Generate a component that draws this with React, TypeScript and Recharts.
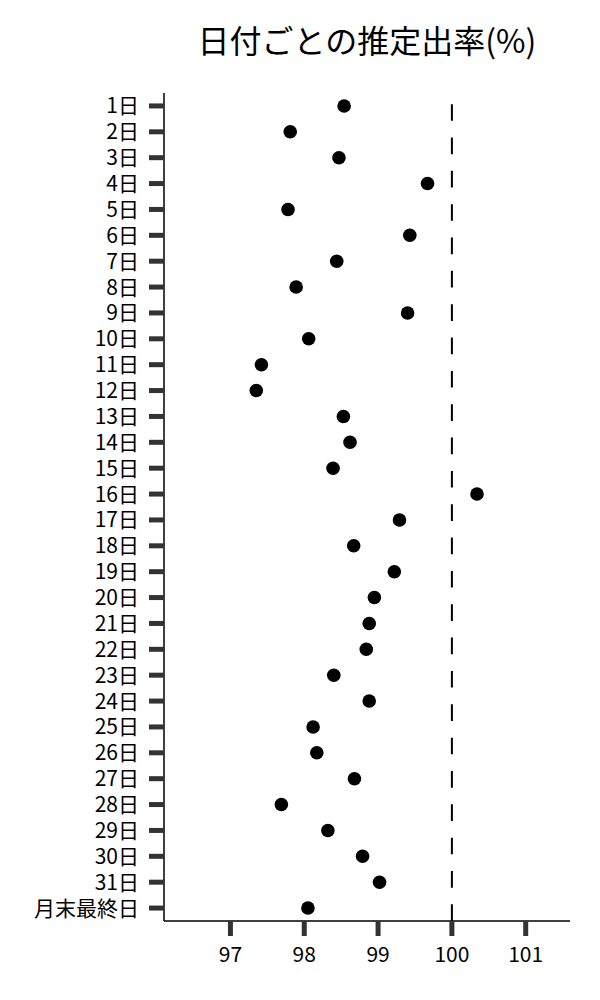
import React from "react";
import { ScatterChart, Scatter, XAxis, YAxis, ReferenceLine } from "recharts";

const days: string[] = [
  "1日", "2日", "3日", "4日", "5日", "6日", "7日", "8日", "9日", "10日",
  "11日", "12日", "13日", "14日", "15日", "16日", "17日", "18日", "19日", "20日",
  "21日", "22日", "23日", "24日", "25日", "26日", "27日", "28日", "29日", "30日",
  "31日", "月末最終日",
];

const rates: number[] = [
  98.54, 97.81, 98.47, 99.67, 97.78, 99.43, 98.44, 97.89, 99.40, 98.06,
  97.42, 97.35, 98.53, 98.62, 98.39, 100.34, 99.29, 98.67, 99.22, 98.95,
  98.88, 98.84, 98.40, 98.88, 98.12, 98.17, 98.68, 97.69, 98.32, 98.79,
  99.02, 98.05,
];

const xTicks: number[] = [97, 98, 99, 100, 101];
const xDomain: number[] = [96.1, 101.6];
const referenceValue = 100;
const title = "日付ごとの推定出率(%)";

const data = days.map((d, i) => ({ day: d, rate: rates[i] }));

const FONT = '"Noto Sans CJK JP", "Noto Sans", sans-serif';

const Dot = (props: any) => {
  const { cx, cy } = props;
  if (cx == null || cy == null) return null;
  return <circle cx={cx} cy={cy} r={6.8} fill="#000" />;
};

// Draw the dashed reference line from the bottom of the plot upward
const RefLineShape = (props: any) => {
  const { x1, y1, x2, y2 } = props;
  if (x1 == null || y1 == null) return null;
  const yb = Math.max(y1, y2);
  const yt = Math.min(y1, y2);
  return (
    <line
      x1={x1}
      y1={yb}
      x2={x2}
      y2={yt}
      stroke="#000"
      strokeWidth={2}
      strokeDasharray="16.67 16.67"
    />
  );
};

export default function App() {
  return (
    <div style={{ position: "relative", width: 584, height: 984, fontFamily: FONT }}>
      <div
        style={{
          position: "absolute",
          left: 159,
          top: 15,
          width: 400,
          height: 32,
          lineHeight: "32px",
          fontSize: 32,
          textAlign: "center",
          color: "#000",
          fontFamily: FONT,
          whiteSpace: "nowrap",
        }}
      >
        {title}
      </div>
      <ScatterChart
        width={584}
        height={984}
        margin={{ top: 85, right: 22, bottom: 21, left: 0 }}
        style={{ fontFamily: FONT }}
      >
        <XAxis
          type="number"
          dataKey="rate"
          domain={xDomain}
          ticks={xTicks}
          allowDataOverflow
          height={50}
          axisLine={{ stroke: "#000", strokeWidth: 1.5 }}
          tickLine={{ stroke: "#333", strokeWidth: 5 }}
          tickSize={15}
          tickMargin={11}
          tick={{ fill: "#000", fontSize: 21, fontFamily: FONT }}
        />
        <YAxis
          type="category"
          dataKey="day"
          reversed
          allowDuplicatedCategory={false}
          width={156}
          interval={0}
          axisLine={{ stroke: "#000", strokeWidth: 1.5 }}
          tickLine={{ stroke: "#333", strokeWidth: 5 }}
          tickSize={15}
          tickMargin={10}
          tick={{ fill: "#000", fontSize: 21, fontFamily: FONT }}
        />
        <ReferenceLine x={referenceValue} shape={RefLineShape} />
        <Scatter data={data} fill="#000" shape={Dot} isAnimationActive={false} />
      </ScatterChart>
    </div>
  );
}
